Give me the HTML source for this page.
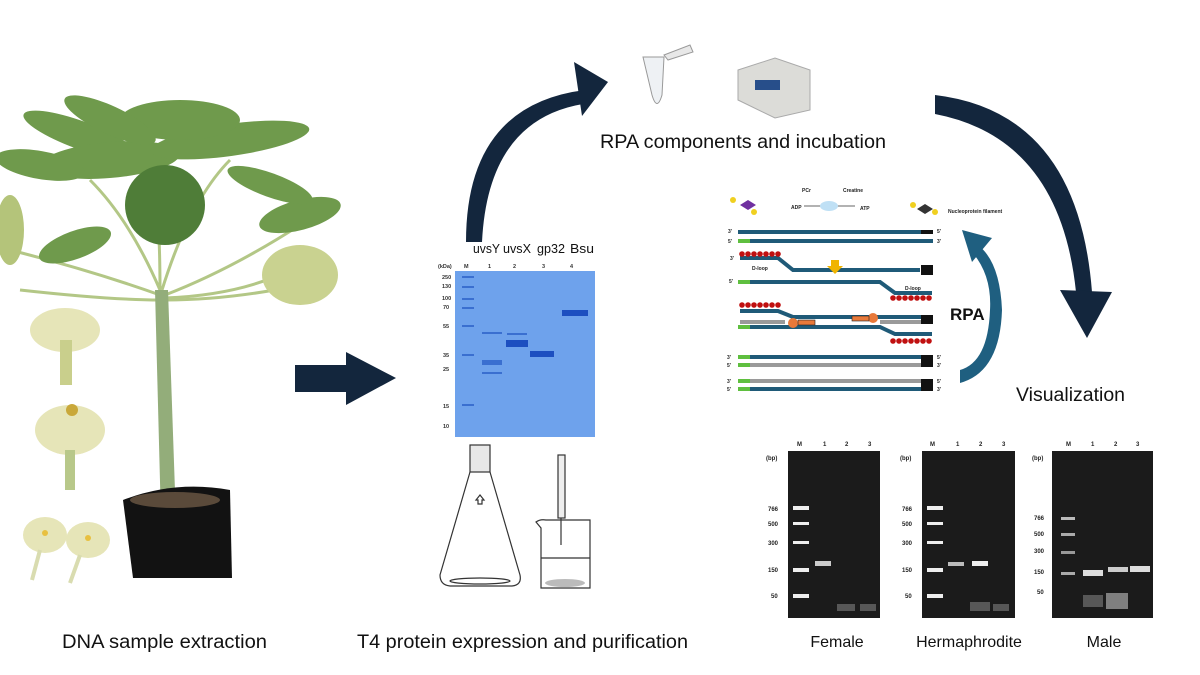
<!DOCTYPE html>
<html><head><meta charset="utf-8"><style>
html,body{margin:0;padding:0;background:#fff;}
svg{display:block;font-family:"Liberation Sans",sans-serif;}
</style></head><body>
<svg width="1200" height="675" viewBox="0 0 1200 675" xmlns="http://www.w3.org/2000/svg">
<rect width="1200" height="675" fill="#fff"/>
<g>
 <g stroke="#b3c786" stroke-width="3" fill="none">
  <path d="M160,295 Q90,270 10,250"/>
  <path d="M160,300 Q110,300 20,290"/>
  <path d="M165,295 Q230,270 300,225"/>
  <path d="M165,300 Q230,300 300,285"/>
  <path d="M160,290 Q130,220 90,180"/>
  <path d="M162,290 Q190,200 230,160"/>
  <path d="M160,290 Q160,200 150,150"/>
  <path d="M165,298 Q240,295 290,270"/>
 </g>
 <g fill="#6f9a4c">
  <ellipse cx="80" cy="135" rx="60" ry="14" transform="rotate(20 80 135)"/>
  <ellipse cx="110" cy="160" rx="70" ry="18" transform="rotate(-5 110 160)"/>
  <ellipse cx="230" cy="140" rx="80" ry="16" transform="rotate(-8 230 140)"/>
  <ellipse cx="180" cy="120" rx="60" ry="20"/>
  <ellipse cx="110" cy="120" rx="50" ry="14" transform="rotate(25 110 120)"/>
  <ellipse cx="40" cy="165" rx="45" ry="14" transform="rotate(10 40 165)"/>
  <ellipse cx="300" cy="215" rx="42" ry="15" transform="rotate(-15 300 215)"/>
  <ellipse cx="75" cy="245" rx="38" ry="14" transform="rotate(-20 75 245)"/>
  <ellipse cx="270" cy="185" rx="45" ry="12" transform="rotate(20 270 185)"/>
  <ellipse cx="165" cy="205" rx="40" ry="40" fill="#4f7d38"/>
 </g>
 <ellipse cx="300" cy="275" rx="38" ry="30" fill="#c9d290"/>
 <ellipse cx="10" cy="230" rx="14" ry="35" fill="#b4c47a"/>
 <path d="M155,290 L168,290 L176,520 L161,520 Z" fill="#93ad7a"/>
 <path d="M123,500 Q175,480 230,490 L232,578 L133,578 Z" fill="#121212"/>
 <ellipse cx="175" cy="500" rx="45" ry="8" fill="#5a4a3a"/>
 <g fill="#e6e5b8">
  <ellipse cx="65" cy="330" rx="35" ry="22"/>
  <rect x="60" y="340" width="12" height="45" fill="#c9cf8c"/>
  <ellipse cx="70" cy="430" rx="35" ry="25"/>
  <rect x="65" y="450" width="10" height="40" fill="#b8c88a"/>
  <ellipse cx="45" cy="535" rx="22" ry="18"/>
  <ellipse cx="88" cy="540" rx="22" ry="18"/>
 </g>
 <circle cx="72" cy="410" r="6" fill="#c9a83a"/>
 <circle cx="45" cy="533" r="3" fill="#e8c040"/><circle cx="88" cy="538" r="3" fill="#e8c040"/>
 <path d="M40,550 L32,580 M80,555 L70,583" stroke="#d9dcb0" stroke-width="4"/>
</g>
<path d="M295,365 L346,365 L346,352 L396,378 L346,405 L346,392 L295,392 Z" fill="#13263d"/>
<g font-size="13" fill="#111">
 <text x="473" y="253" textLength="27" lengthAdjust="spacingAndGlyphs">uvsY</text><text x="503" y="253" textLength="28" lengthAdjust="spacingAndGlyphs">uvsX</text><text x="537" y="253" textLength="28" lengthAdjust="spacingAndGlyphs">gp32</text><text x="570" y="253" textLength="24" lengthAdjust="spacingAndGlyphs">Bsu</text>
</g>
<g font-size="5.5" fill="#333" font-weight="bold">
 <text x="438" y="268">(kDa)</text><text x="464" y="268">M</text><text x="488" y="268">1</text><text x="513" y="268">2</text><text x="542" y="268">3</text><text x="570" y="268">4</text>
 <text x="442" y="279">250</text><text x="442" y="288">130</text><text x="442" y="300">100</text><text x="443" y="309">70</text>
 <text x="443" y="328">55</text><text x="443" y="357">35</text><text x="443" y="371">25</text><text x="443" y="408">15</text><text x="443" y="428">10</text>
</g>
<rect x="455" y="271" width="140" height="166" fill="#6ea2ec"/>
<g fill="#3a6fd0">
 <rect x="462" y="276" width="12" height="2"/><rect x="462" y="286" width="12" height="2"/><rect x="462" y="298" width="12" height="2"/><rect x="462" y="307" width="12" height="2"/><rect x="462" y="325" width="12" height="2"/><rect x="462" y="354" width="12" height="2"/><rect x="462" y="404" width="12" height="2"/>
 <rect x="482" y="332" width="20" height="2"/><rect x="482" y="360" width="20" height="5"/><rect x="482" y="372" width="20" height="2"/>
 <rect x="507" y="333" width="20" height="2"/>
 <rect x="506" y="340" width="22" height="7" fill="#1d4fc0"/>
 <rect x="530" y="351" width="24" height="6" fill="#1d4fc0"/>
 <rect x="562" y="310" width="26" height="6" fill="#1d4fc0"/>
</g>
<g stroke="#333" fill="none" stroke-width="1.2">
 <rect x="470" y="445" width="20" height="27" fill="#e8e8e8"/>
 <path d="M470,472 L440,575 Q440,585 450,586 L512,586 Q522,585 520,575 L490,472"/>
 <ellipse cx="480" cy="581" rx="30" ry="3"/>
 <path d="M480,495 l-4,5 h2 v4 h4 v-4 h2 z"/>
 <path d="M536,522 Q540,519 546,520 L590,520 L590,588 L541,588 L541,528 Z"/>
 <line x1="541" y1="558" x2="590" y2="558"/>
 <rect x="558" y="455" width="7" height="63" fill="#eee"/>
 <line x1="561" y1="518" x2="561" y2="545"/>
</g>
<ellipse cx="565" cy="583" rx="20" ry="4" fill="#bbb"/>
<path d="M466,242 Q466,105 585,90 L583,104 Q488,120 482,242 Z" fill="#13263d"/>
<path d="M574,62 L608,82 L582,116 Z" fill="#13263d"/>
<path d="M643,57 L664,57 L662,95 Q657,112 652,95 Z" fill="#eef1f4" stroke="#999"/>
<path d="M664,55 L690,45 L693,52 L668,60 Z" fill="#e8e8e8" stroke="#999"/>
<path d="M738,70 L775,58 L810,70 L810,110 L775,118 L738,100 Z" fill="#dcdcd8" stroke="#aaa"/>
<rect x="755" y="80" width="25" height="10" fill="#274e8a"/>
<text x="600" y="148" font-size="19.5" fill="#111" textLength="286" lengthAdjust="spacingAndGlyphs">RPA components and incubation</text>
<path d="M935,95 Q1078,112 1092,292 L1076,292 Q1060,138 935,114 Z" fill="#13263d"/>
<path d="M1060,290 L1112,292 L1087,338 Z" fill="#13263d"/>
<text x="1016" y="401" font-size="19" fill="#111" textLength="109" lengthAdjust="spacingAndGlyphs">Visualization</text>
<g font-size="5" fill="#222" font-weight="bold">
 <text x="802" y="192">PCr</text><text x="843" y="192">Creatine</text>
 <text x="791" y="209">ADP</text><text x="860" y="210">ATP</text>
 <text x="948" y="213">Nucleoprotein filament</text>
 <text x="728" y="233">3'</text><text x="728" y="243">5'</text>
 <text x="730" y="260">3'</text><text x="729" y="283">5'</text>
 <text x="727" y="359">3'</text><text x="727" y="367">5'</text><text x="727" y="383">3'</text><text x="727" y="391">5'</text>
 <text x="937" y="233">5'</text><text x="937" y="243">3'</text>
 <text x="937" y="359">5'</text><text x="937" y="367">3'</text><text x="937" y="383">5'</text><text x="937" y="391">3'</text>
 <text x="752" y="270">D-loop</text><text x="905" y="290">D-loop</text>
</g>
<path d="M804,206 L855,206" stroke="#333" stroke-width="0.8"/>
<ellipse cx="829" cy="206" rx="9" ry="5" fill="#bfe0f5"/>
<g fill="#f0d020"><circle cx="733" cy="200" r="3"/><circle cx="754" cy="212" r="3"/><circle cx="913" cy="205" r="3"/><circle cx="935" cy="212" r="3"/></g>
<path d="M740,205 l8,-5 l8,5 l-8,5 z" fill="#7030a0"/><path d="M917,209 l8,-5 l8,5 l-8,5 z" fill="#333"/>
<g stroke="#1f5a78" stroke-width="4" fill="none">
 <line x1="738" y1="232" x2="933" y2="232"/><line x1="738" y1="241" x2="933" y2="241"/>
 <path d="M740,258 L778,258 L793,270 L920,270"/>
 <path d="M740,282 L880,282 L895,293 L932,293"/>
 <path d="M740,311 L778,311 L793,317 L933,317"/>
 <path d="M740,327 L880,327 L895,334 L932,334"/>
 <line x1="738" y1="357" x2="933" y2="357"/><line x1="738" y1="389" x2="933" y2="389"/>
</g>
<g stroke="#9a9a9a" stroke-width="4"><line x1="740" y1="322" x2="785" y2="322"/><line x1="880" y1="322" x2="932" y2="322"/><line x1="738" y1="365" x2="933" y2="365"/><line x1="738" y1="381" x2="933" y2="381"/></g>
<g fill="#5fbf3f"><rect x="738" y="239" width="12" height="4"/><rect x="738" y="280" width="12" height="4"/><rect x="738" y="325" width="12" height="4"/><rect x="738" y="355" width="12" height="4"/><rect x="738" y="363" width="12" height="4"/><rect x="738" y="379" width="12" height="4"/><rect x="738" y="387" width="12" height="4"/></g>
<g fill="#111"><rect x="921" y="230" width="12" height="4"/><rect x="921" y="265" width="12" height="10"/><rect x="921" y="315" width="12" height="9"/><rect x="921" y="355" width="12" height="12"/><rect x="921" y="379" width="12" height="12"/></g>
<g fill="#c01010">
 <circle cx="742" cy="254" r="2.8"/><circle cx="748" cy="254" r="2.8"/><circle cx="754" cy="254" r="2.8"/><circle cx="760" cy="254" r="2.8"/><circle cx="766" cy="254" r="2.8"/><circle cx="772" cy="254" r="2.8"/><circle cx="778" cy="254" r="2.8"/>
 <circle cx="893" cy="298" r="2.8"/><circle cx="899" cy="298" r="2.8"/><circle cx="905" cy="298" r="2.8"/><circle cx="911" cy="298" r="2.8"/><circle cx="917" cy="298" r="2.8"/><circle cx="923" cy="298" r="2.8"/><circle cx="929" cy="298" r="2.8"/>
 <circle cx="742" cy="305" r="2.8"/><circle cx="748" cy="305" r="2.8"/><circle cx="754" cy="305" r="2.8"/><circle cx="760" cy="305" r="2.8"/><circle cx="766" cy="305" r="2.8"/><circle cx="772" cy="305" r="2.8"/><circle cx="778" cy="305" r="2.8"/>
 <circle cx="893" cy="341" r="2.8"/><circle cx="899" cy="341" r="2.8"/><circle cx="905" cy="341" r="2.8"/><circle cx="911" cy="341" r="2.8"/><circle cx="917" cy="341" r="2.8"/><circle cx="923" cy="341" r="2.8"/><circle cx="929" cy="341" r="2.8"/>
</g>
<path d="M831,260 L839,260 L839,266 L843,266 L835,274 L827,266 L831,266 Z" fill="#f0b400"/>
<circle cx="793" cy="323" r="5" fill="#e8793a"/><rect x="798" y="320" width="17" height="5" fill="#e8793a" stroke="#222" stroke-width="0.6"/>
<circle cx="873" cy="318" r="5" fill="#e8793a"/><rect x="852" y="316" width="17" height="5" fill="#e8793a" stroke="#222" stroke-width="0.6"/>
<text x="950" y="320" font-size="17" font-weight="bold" fill="#111">RPA</text>
<path d="M960,383 Q1000,372 1002,310 Q1000,262 978,245 L972,252 Q992,275 990,310 Q988,362 960,370 Z" fill="#1f5f80"/>
<path d="M962,230 L992,238 L972,262 Z" fill="#1f5f80"/>
<g>
 <rect x="788" y="451" width="92" height="167" fill="#1b1b1b"/>
 <rect x="922" y="451" width="93" height="167" fill="#1b1b1b"/>
 <rect x="1052" y="451" width="101" height="167" fill="#1b1b1b"/>
 <g font-size="6" font-weight="bold" fill="#222">
  <text x="797" y="446">M</text><text x="823" y="446">1</text><text x="845" y="446">2</text><text x="868" y="446">3</text>
  <text x="930" y="446">M</text><text x="956" y="446">1</text><text x="979" y="446">2</text><text x="1002" y="446">3</text>
  <text x="1066" y="446">M</text><text x="1091" y="446">1</text><text x="1114" y="446">2</text><text x="1136" y="446">3</text>
  <text x="766" y="460">(bp)</text><text x="900" y="460">(bp)</text><text x="1032" y="460">(bp)</text>
  <text x="768" y="511">766</text><text x="768" y="526">500</text><text x="768" y="545">300</text><text x="768" y="572">150</text><text x="771" y="598">50</text>
  <text x="902" y="511">766</text><text x="902" y="526">500</text><text x="902" y="545">300</text><text x="902" y="572">150</text><text x="905" y="598">50</text>
  <text x="1034" y="520">766</text><text x="1034" y="536">500</text><text x="1034" y="553">300</text><text x="1034" y="574">150</text><text x="1037" y="594">50</text>
 </g>
 <g fill="#eee">
  <rect x="793" y="506" width="16" height="4"/><rect x="793" y="522" width="16" height="3"/><rect x="793" y="541" width="16" height="3"/><rect x="793" y="568" width="16" height="4"/><rect x="793" y="594" width="16" height="4"/>
  <rect x="927" y="506" width="16" height="4"/><rect x="927" y="522" width="16" height="3"/><rect x="927" y="541" width="16" height="3"/><rect x="927" y="568" width="16" height="4"/><rect x="927" y="594" width="16" height="4"/>
  <rect x="815" y="561" width="16" height="5" fill="#ccc"/>
  <rect x="948" y="562" width="16" height="4" fill="#bbb"/><rect x="972" y="561" width="16" height="5"/>
  <rect x="1061" y="517" width="14" height="3" fill="#bbb"/><rect x="1061" y="533" width="14" height="3" fill="#aaa"/><rect x="1061" y="551" width="14" height="3" fill="#999"/><rect x="1061" y="572" width="14" height="3" fill="#aaa"/>
  <rect x="1083" y="570" width="20" height="6" fill="#ddd"/><rect x="1108" y="567" width="20" height="5" fill="#ccc"/><rect x="1130" y="566" width="20" height="6" fill="#ddd"/>
 </g>
 <g fill="#666" opacity="0.8">
  <rect x="837" y="604" width="18" height="7"/><rect x="860" y="604" width="16" height="7"/>
  <rect x="970" y="602" width="20" height="9"/><rect x="993" y="604" width="16" height="7"/>
  <rect x="1083" y="595" width="20" height="12"/><rect x="1106" y="593" width="22" height="16" fill="#999"/>
 </g>
</g>
<g font-size="19" fill="#111">
 <text x="62" y="648" textLength="205" lengthAdjust="spacingAndGlyphs">DNA sample extraction</text>
 <text x="357" y="648" textLength="331" lengthAdjust="spacingAndGlyphs">T4 protein expression and purification</text>
</g>
<g font-size="16" fill="#111">
 <text x="837" y="647" text-anchor="middle">Female</text>
 <text x="969" y="647" text-anchor="middle">Hermaphrodite</text>
 <text x="1104" y="647" text-anchor="middle">Male</text>
</g>
</svg>
</body></html>
